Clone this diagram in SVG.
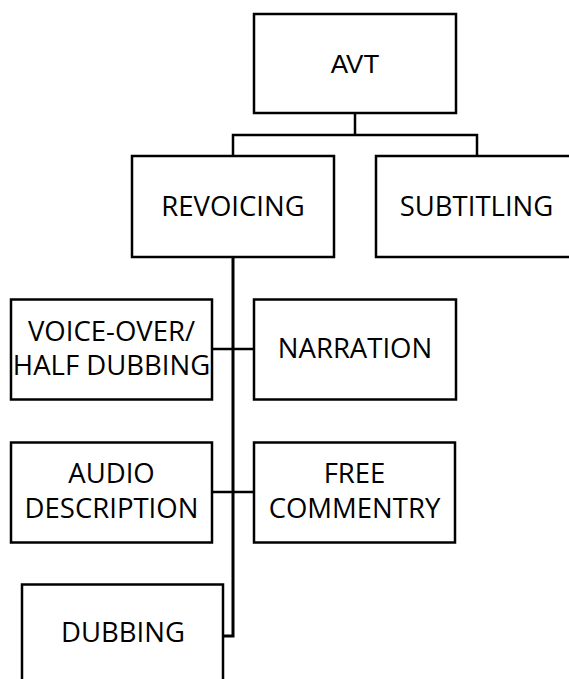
<svg xmlns="http://www.w3.org/2000/svg" width="569" height="679" viewBox="0 0 569 679">
<style>
.box{fill:#fff;stroke:#000;stroke-width:2.5}
.c{fill:none;stroke:#000;stroke-width:2.5}
.t{font-family:"Open Sans","Noto Sans",sans-serif;font-size:27.5px;text-anchor:middle;fill:#000}
.a{font-family:"Liberation Sans",Arial,sans-serif;font-size:26px;text-anchor:middle;fill:#000}
</style>
<rect width="569" height="679" fill="#fff"/>
<g id="connectors">
<path class="c" d="M355 113V135M233 156V135H477V156"/>
<path class="c" d="M233 257V636H223" style="stroke-width:3"/>
<path class="c" d="M212 349H254"/>
<path class="c" d="M212 492H254"/>
</g>
<g id="avt"><rect class="box" x="254" y="14" width="202" height="99"/><text class="a" x="355" y="73">AVT</text></g>
<g id="revoicing"><rect class="box" x="132" y="156" width="202" height="101"/><text class="t" x="233" y="216">REVOICING</text></g>
<g id="subtitling"><rect class="box" x="376" y="156" width="202" height="101"/><text class="t" x="476.5" y="216">SUBTITLING</text></g>
<g id="voiceover"><rect class="box" x="11" y="299.5" width="201" height="100"/><text class="t" x="111.5" y="341">VOICE-OVER/</text><text class="t" x="111.5" y="375">HALF DUBBING</text></g>
<g id="narration"><rect class="box" x="254" y="299.5" width="202" height="100"/><text class="t" x="355" y="358">NARRATION</text></g>
<g id="audiodescription"><rect class="box" x="11" y="442.5" width="201" height="100"/><text class="t" x="111.5" y="483">AUDIO</text><text class="t" x="111.5" y="518">DESCRIPTION</text></g>
<g id="freecommentry"><rect class="box" x="254" y="442.5" width="201" height="100"/><text class="t" x="354.5" y="483">FREE</text><text class="t" x="354.5" y="518">COMMENTRY</text></g>
<g id="dubbing"><rect class="box" x="22" y="584.5" width="201" height="110"/><text class="t" x="123" y="642">DUBBING</text></g>
</svg>
